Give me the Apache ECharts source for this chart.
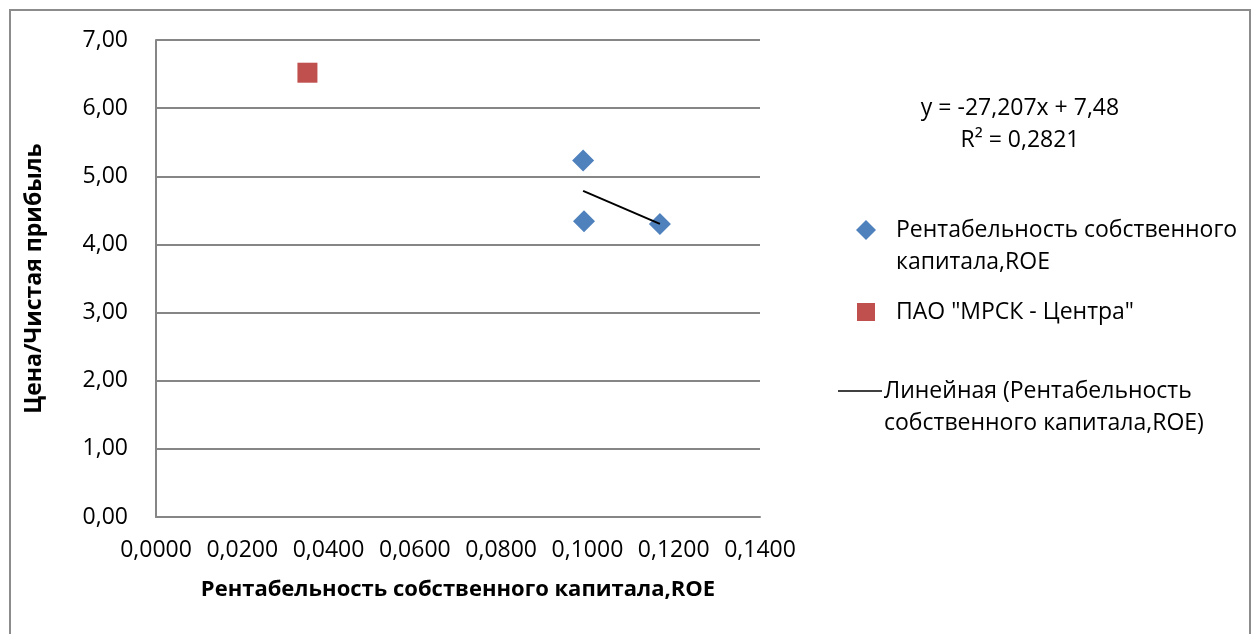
<!DOCTYPE html>
<html>
<head>
<meta charset="utf-8">
<script src="https://cdn.jsdelivr.net/npm/echarts@6/dist/echarts.min.js"></script>
<style>
  html, body { margin: 0; padding: 0; background: #fff; }
  #chart { width: 1254px; height: 634px; }
</style>
</head>
<body>
<div id="chart"></div>
<script>
// ROE (x) vs P/E (y) for peer companies
const roeValues = [0.0990, 0.0992, 0.1168];
const peValues = [5.23, 4.34, 4.30];
const targetRoe = [0.0351];
const targetPe = [6.52];

// Linear trend of the peer group, as stated in its label
const trendSlope = -27.207;
const trendIntercept = 7.48;
const trendR2 = 0.2821;

const xTicks = [0, 0.02, 0.04, 0.06, 0.08, 0.10, 0.12, 0.14];
const yTicks = [0, 1, 2, 3, 4, 5, 6, 7];

const peerName = 'Рентабельность собственного капитала,ROE';
const targetName = 'ПАО "МРСК - Центра"';
const trendName = 'Линейная (Рентабельность собственного капитала,ROE)';
const xTitle = 'Рентабельность собственного капитала,ROE';
const yTitle = 'Цена/Чистая прибыль';

const FONT = '"Open Sans", "Noto Sans", sans-serif';
const LABEL_SIZE = 23;
const fmt = (v, d) => v.toFixed(d).replace('.', ',');

const xMinData = Math.min(...roeValues);
const xMaxData = Math.max(...roeValues);
const trendData = [
  [xMinData, trendSlope * xMinData + trendIntercept],
  [xMaxData, trendSlope * xMaxData + trendIntercept]
];

const chart = echarts.init(document.getElementById('chart'));
const gridColor = '#868686';
const txt = (x, y, text, align) => ({
  type: 'text', x: x, y: y,
  style: { text: text, font: LABEL_SIZE + 'px ' + FONT, fill: '#000', align: align || 'left', verticalAlign: 'middle' }
});

chart.setOption({
  backgroundColor: '#fff',
  animation: false,
  textStyle: { fontFamily: FONT },
  grid: { left: 156, top: 40, width: 604, height: 477, containLabel: false },
  xAxis: {
    type: 'value',
    min: xTicks[0],
    max: xTicks[xTicks.length - 1],
    interval: 0.02,
    name: xTitle,
    nameLocation: 'middle',
    nameGap: 62,
    nameTextStyle: { fontFamily: FONT, fontWeight: 'bold', fontSize: 22, color: '#000' },
    axisLine: { show: true, lineStyle: { color: gridColor, width: 2 } },
    axisTick: { show: false },
    splitLine: { show: false },
    axisLabel: { fontFamily: FONT, fontSize: LABEL_SIZE, color: '#000', margin: 22, formatter: v => fmt(v, 4) }
  },
  yAxis: {
    type: 'value',
    min: yTicks[0],
    max: yTicks[yTicks.length - 1],
    interval: 1,
    name: yTitle,
    nameLocation: 'middle',
    nameRotate: 90,
    nameGap: 110,
    nameTextStyle: { fontFamily: FONT, fontWeight: 'bold', fontSize: 23, color: '#000' },
    axisLine: { show: true, lineStyle: { color: gridColor, width: 2 } },
    axisTick: { show: false },
    splitLine: { show: true, lineStyle: { color: gridColor, width: 2 } },
    axisLabel: { fontFamily: FONT, fontSize: LABEL_SIZE, color: '#000', margin: 28, formatter: v => fmt(v, 2) }
  },
  series: [
    {
      name: peerName,
      type: 'scatter',
      symbol: 'diamond',
      symbolSize: 22,
      itemStyle: { color: '#4F81BD', opacity: 1 },
      data: roeValues.map((x, i) => [x, peValues[i]]),
      z: 3
    },
    {
      name: targetName,
      type: 'scatter',
      symbol: 'rect',
      symbolSize: 20,
      itemStyle: { color: '#C0504D', opacity: 1 },
      data: targetRoe.map((x, i) => [x, targetPe[i]]),
      z: 3
    },
    {
      name: trendName,
      type: 'line',
      showSymbol: false,
      symbol: 'none',
      lineStyle: { color: '#000', width: 2 },
      data: trendData,
      z: 4
    }
  ],
  graphic: [
    // chart frame
    { type: 'rect', shape: { x: 10, y: 10, width: 1240, height: 640 }, style: { fill: null, stroke: '#8c8c8c', lineWidth: 2 }, silent: true },
    // trendline equation
    txt(1020, 108, 'y = ' + fmt(trendSlope, 3) + 'x + ' + fmt(trendIntercept, 2), 'center'),
    txt(1020, 140, 'R² = ' + fmt(trendR2, 4), 'center'),
    // legend
    { type: 'polygon', shape: { points: [[866, 220], [876, 230], [866, 240], [856, 230]] }, style: { fill: '#4F81BD' } },
    txt(896, 230, 'Рентабельность собственного'),
    txt(896, 262, 'капитала,ROE'),
    { type: 'rect', shape: { x: 857, y: 303, width: 18, height: 18 }, style: { fill: '#C0504D' } },
    txt(896, 312, targetName),
    { type: 'line', shape: { x1: 838, y1: 391, x2: 882, y2: 391 }, style: { stroke: '#000', lineWidth: 1.5 } },
    txt(884, 391, 'Линейная (Рентабельность'),
    txt(884, 423, 'собственного капитала,ROE)')
  ]
});
</script>
</body>
</html>
